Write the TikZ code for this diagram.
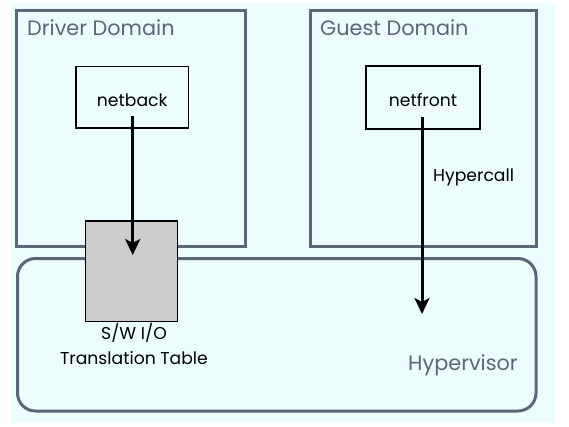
\documentclass[tikz,border=0pt]{standalone}
\usepackage{fontspec}
\setmainfont{Poppins}
\usetikzlibrary{arrows.meta}
\definecolor{bgc}{RGB}{236,253,253}
\definecolor{slate}{RGB}{92,102,120}
\definecolor{boxgray}{RGB}{204,204,204}
\tikzset{
  dombox/.style={draw=slate, line width=3pt},
  compbox/.style={draw=black, line width=1.5pt},
  domlabel/.style={text=slate, font=\fontsize{20.8}{24}\selectfont, inner sep=0pt},
  complabel/.style={text=black, font=\fontsize{17.2}{20}\selectfont, inner sep=0pt},
  flow/.style={line width=3pt, -{Stealth[length=16pt,width=15pt,inset=4pt]}}
}
\begin{document}
\begin{tikzpicture}[x=1pt,y=-1pt]
\useasboundingbox (0,0) rectangle (569,426);
\fill[white] (0,0) rectangle (569,426);
\fill[bgc] (11,3) rectangle (555,423);
% domains
\draw[dombox] (16.5,10) rectangle (245.5,246.5);
\draw[dombox] (310.5,10) rectangle (536.5,246.5);
\draw[dombox, rounded corners=18pt] (17.5,258.5) rectangle (536,411);
\node[domlabel, anchor=west] (dd) at (27,28) {Driver Domain};
\node[domlabel, anchor=west] (gd) at (320,28) {Guest Domain};
\node[domlabel, anchor=west] (hv) at (408,365) {Hypervisor};
% components
\node[compbox, fill=bgc, minimum width=112.5pt, minimum height=61.5pt] (nb) at (132.2,97.3) {};
\node[complabel] (nbt) at (132.2,100) {netback};
\node[compbox, fill=bgc, minimum width=114pt, minimum height=63pt] (nf) at (423,97.5) {};
\node[complabel] (nft) at (423,100) {netfront};
\node[compbox, fill=boxgray, minimum width=92pt, minimum height=100.7pt] (tt) at (131.7,271.3) {};
\node[complabel, align=center, anchor=north] (ttl) at (134,323.5) {S/W I/O\\[5pt]Translation Table};
% arrows
\coordinate (a1s) at (132.7,116);
\coordinate (a1e) at (132.7,255);
\coordinate (a2s) at (422,117);
\coordinate (a2e) at (422,314);
\draw[flow] (a1s) -- (a1e);
\draw[flow] (a2s) -- (a2e);
\node[complabel, anchor=west] (hc) at (433,177) {Hypercall};
\end{tikzpicture}
\end{document}
